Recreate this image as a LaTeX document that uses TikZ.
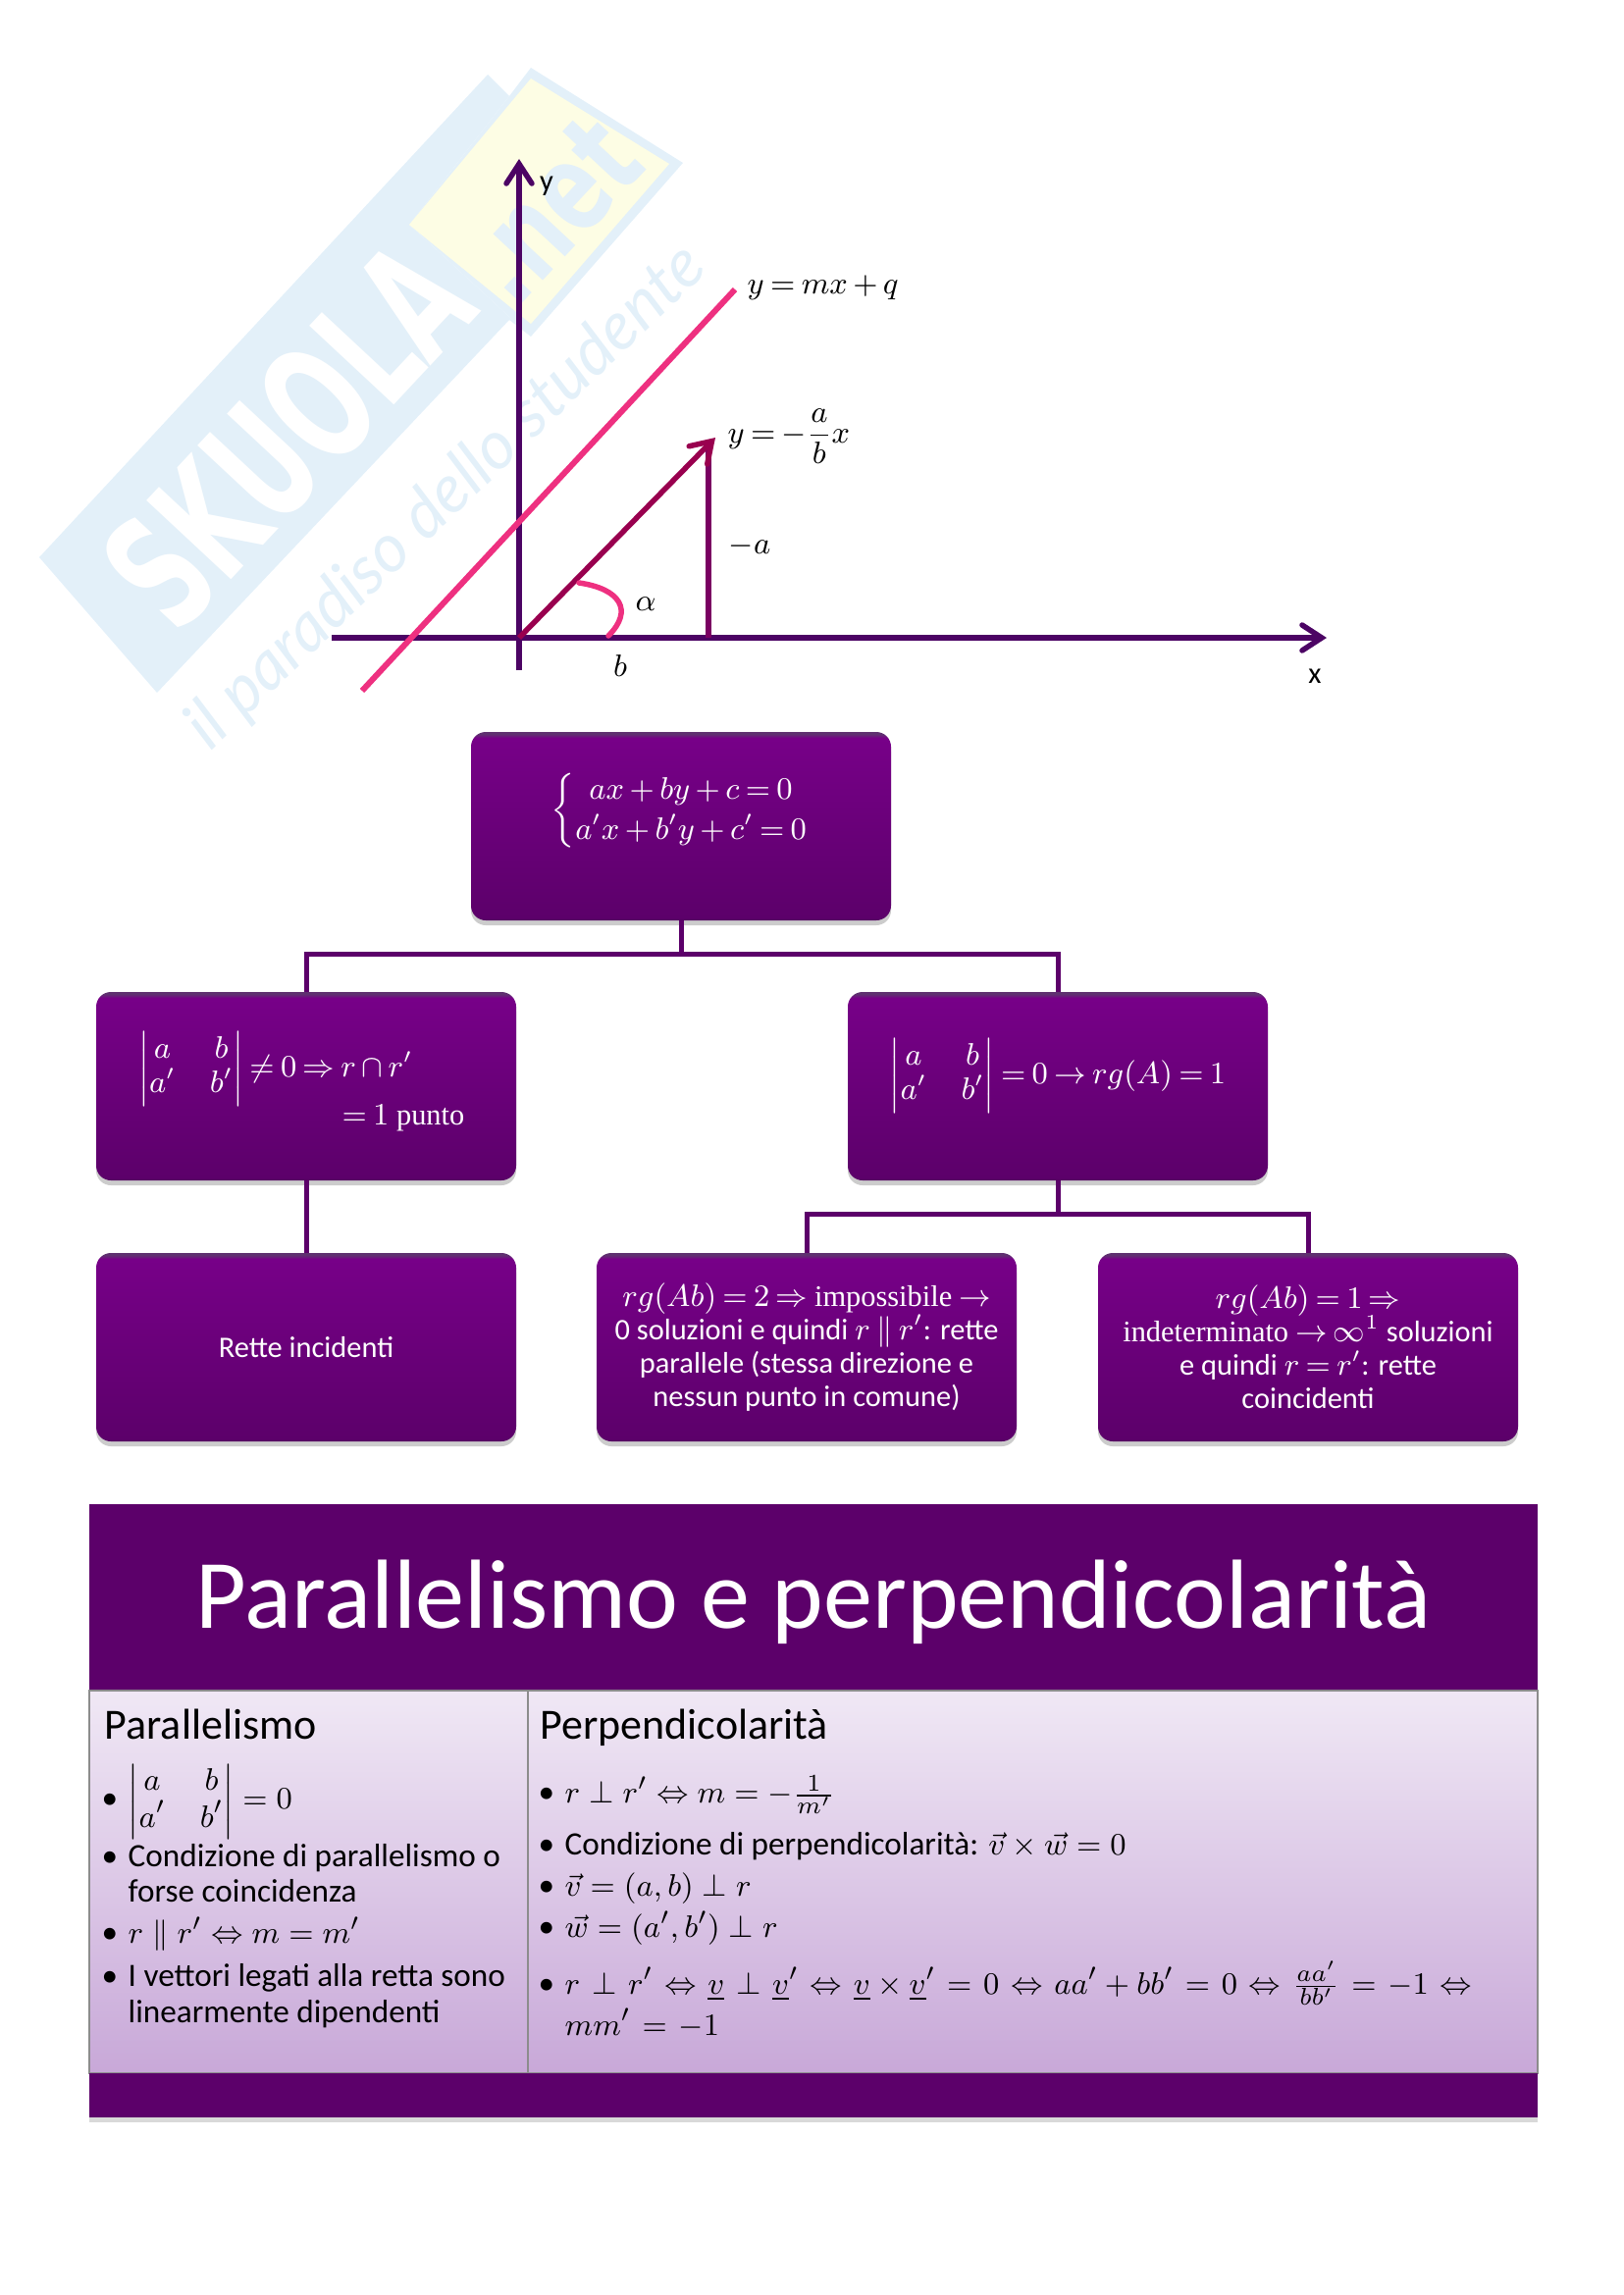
\documentclass[tikz,border=0pt]{standalone}
\usepackage{amsmath}
\usepackage{fontspec}
\setmainfont{Carlito}
\newfontfamily\markfont{DejaVu Sans}
\newfontfamily\tagfont{Lato}
\newfontfamily\wordfont{Liberation Serif}
\usetikzlibrary{arrows.meta, shadows}
\definecolor{darkviolet}{HTML}{5C006A}
\definecolor{axisviolet}{HTML}{4C0464}
\definecolor{sideviolet}{HTML}{7A0062}
\definecolor{slopered}{HTML}{99004F}
\definecolor{linepink}{HTML}{EE3080}
\definecolor{markblue}{HTML}{E3F0F9}
\definecolor{markyellow}{HTML}{FDFDE4}
\definecolor{celltop}{HTML}{F0E8F5}
\definecolor{cellbottom}{HTML}{C8A8D8}
\pgfdeclareverticalshading{boxshade}{100bp}{
  color(0bp)=(darkviolet); color(25bp)=(darkviolet!85!black);
  color(25.6bp)=(darkviolet); color(73.4bp)=(rgb:red,126;green,0;blue,144);
  color(74.4bp)=(rgb:red,200;green,100;blue,235); color(100bp)=(rgb:red,200;green,100;blue,235)}
\newcommand{\dotmark}{\llap{\textbullet\hspace{3pt}}}
\newcommand{\boxfont}{\fontsize{8.65}{9.7}\selectfont\thickmuskip=3.5mu\medmuskip=3mu\relax}
\newcommand{\longfont}{\fontsize{9.45}{10.4}\selectfont\thickmuskip=6.5mu\relax}
\tikzset{
  purplebox/.style={shading=boxshade, rounded corners=1.5mm, minimum width=42.8mm, minimum height=19.2mm,
    inner sep=0pt, outer sep=0pt, text=white, align=center, font=\boxfont,
    drop shadow={opacity=.4, shadow xshift=0pt, shadow yshift=-.5mm}},
  treeline/.style={draw=darkviolet, line width=.5mm},
  axisline/.style={axisviolet, line width=.55mm, -{Straight Barb[length=2mm,width=2.6mm,line cap=round]}},
  graphlabel/.style={font=\boxfont, inner sep=0pt},
  cellbox/.style={draw=black!45, line width=.12mm, top color=celltop, bottom color=cellbottom,
    minimum height=39mm, inner sep=0pt, outer sep=0pt},
  barbox/.style={fill=darkviolet, text=white, minimum width=147.6mm, inner sep=0pt, outer sep=0pt},
  celltext/.style={anchor=west, align=left, inner sep=0pt, font=\fontsize{9.45}{10.4}\selectfont},
  cellhead/.style={anchor=base west, inner sep=0pt, font=\fontsize{12.5}{14}\selectfont}
}
\begin{document}
\begin{tikzpicture}[x=.1mm, y=-.1mm]
  \useasboundingbox (0,0) rectangle (1654,2339);
  \fill[markblue] (40,568) -- (497,76) -- (519,98) -- (417,229) -- (541,343) -- (519,326) -- (160,706) -- cycle;
  \fill[markblue] (519,98) -- (541,69) -- (696,166) -- (541,343) -- (417,229) -- cycle;
  \fill[markyellow] (541,80) -- (682,167) -- (541,330) -- (417,229) -- cycle;
  \node[rotate=47, xscale=.62, text=white, font=\markfont\bfseries\fontsize{46}{46}\selectfont] (skuolamark) at (293,443) {SKUOLA};
  \node[rotate=47, xscale=.7, text=markblue, font=\markfont\bfseries\fontsize{36}{36}\selectfont] (netmark) at (562,214) {.net};
  \node[rotate=44, text=markblue, font=\tagfont\itshape\fontsize{19.5}{20}\selectfont] (tagmark) at (455,507) {il paradiso dello studente};

  \coordinate (xstart) at (338,650);
  \coordinate (xend) at (1352,650);
  \coordinate (ystart) at (529,683);
  \coordinate (yend) at (529,162);
  \coordinate (origin) at (529,650);
  \coordinate (slopeend) at (729,446);
  \coordinate (sidetop) at (722,458);
  \coordinate (sidefoot) at (722,650);
  \coordinate (linestart) at (369,704);
  \coordinate (lineend) at (749,295);
  \coordinate (arcstart) at (620,648);
  \coordinate (arcend) at (590,594);
  \draw[axisline] (xstart) -- (xend);
  \draw[axisline] (ystart) -- (yend);
  \draw[linepink, line width=.6mm] (linestart) -- (lineend);
  \draw[sideviolet, line width=.55mm] (sidefoot) -- (sidetop);
  \draw[slopered, line width=.55mm, -{Straight Barb[length=2mm,width=2.6mm,line cap=round]}] (origin) -- (slopeend);
  \draw[linepink, line width=.55mm, line cap=round] (arcstart) .. controls (646,622) and (632,600) .. (arcend);
  \node[graphlabel] (ylabel) at (557,190) {y};
  \node[graphlabel] (xlabel) at (1340,689) {x};
  \node[graphlabel, anchor=west] (linelabel) at (761,293) {$y=mx+q$};
  \node[graphlabel, anchor=west] (slopelabel) at (741,445) {$y=-\dfrac{a}{b}x$};
  \node[graphlabel] (sidelabel) at (764,557) {$-a$};
  \node[graphlabel] (alphalabel) at (658,616) {$\alpha$};
  \node[graphlabel] (blabel) at (632,679) {$b$};

  \node[purplebox] (rootbox) at (694,842) {\raisebox{2.2pt}[0pt][0pt]{\renewcommand{\arraystretch}{1.2}$\left\{\begin{array}{@{}c@{}}ax+by+c=0\\ a'x+b'y+c'=0\end{array}\right.$}};
  \node[purplebox] (leftbox) at (312,1107) {};
  \node[text=white, align=right, inner sep=0pt, font=\boxfont, anchor=east] (lefttext) at (474,1102) {$\begin{vmatrix}a&b\\a'&b'\end{vmatrix}\neq 0\Rightarrow r\cap r'$\rule{15pt}{0pt}\\[-1.4pt]{\wordfont $=1$ punto}};
  \node[purplebox] (rightbox) at (1078,1107) {\raisebox{.8pt}[0pt][0pt]{$\begin{vmatrix}a&b\\a'&b'\end{vmatrix}=0\to rg(A)=1$}};
  \node[purplebox] (incidentbox) at (312,1373) {Rette incidenti};
  \node[purplebox] (parallelbox) at (822,1373) {$rg(Ab)=2\Rightarrow$ {\wordfont impossibile} $\to$\\0 soluzioni e quindi $r\parallel r'$: rette\\parallele (stessa direzione e\\nessun punto in comune)};
  \node[purplebox] (samebox) at (1333,1373) {$rg(Ab)=1\Rightarrow$\\{\wordfont indeterminato} $\to\smash{\infty^{1}}$ soluzioni\\e quindi $r=r'$: rette\\coincidenti};
  \draw[treeline] (rootbox.south) -- ++(0,34) coordinate (rootfork) -| (leftbox.north);
  \draw[treeline] (rootfork) -| (rightbox.north);
  \draw[treeline] (leftbox.south) -- (incidentbox.north);
  \draw[treeline] (rightbox.south) -- ++(0,34) coordinate (rightfork) -| (parallelbox.north);
  \draw[treeline] (rightfork) -| (samebox.north);

  \node[barbox, minimum height=19mm, font=\fontsize{28.5}{34}\selectfont,
    drop shadow={opacity=.3, shadow xshift=0pt, shadow yshift=-.5mm}] (titlebar) at (829,1628) {\raisebox{-9pt}[0pt][0pt]{Parallelismo e perpendicolarità}};
  \node[cellbox, minimum width=44.7mm] (leftcell) at (314.5,1918) {};
  \node[cellbox, minimum width=102.9mm] (rightcell) at (1052.5,1918) {};
  \node[barbox, minimum height=4.5mm, drop shadow={opacity=.3, shadow xshift=0pt, shadow yshift=-.5mm}] (footbar) at (829,2135.5) {};

  \node[cellhead] (parallelhead) at (106,1772) {Parallelismo};
  \node[celltext] (parallelone) at (130,1836) {\dotmark$\begin{vmatrix}a&b\\a'&b'\end{vmatrix}=0$};
  \node[celltext] (paralleltwo) at (130,1909) {\dotmark Condizione di parallelismo o\\forse coincidenza};
  \node[celltext] (parallelthree) at (130,1971) {\dotmark$r\parallel r'\Leftrightarrow m=m'$};
  \node[celltext] (parallelfour) at (130,2034) {\dotmark I vettori legati alla retta sono\\linearmente dipendenti};

  \node[cellhead] (perphead) at (550,1772) {Perpendicolarità};
  \node[celltext] (perpone) at (575,1829) {\dotmark$r\perp r'\Leftrightarrow m=-\frac{1}{m'}$};
  \node[celltext] (perptwo) at (575,1882) {\dotmark Condizione di perpendicolarità: $\vec{v}\times\vec{w}=0$};
  \node[celltext] (perpthree) at (575,1925) {\dotmark$\vec{v}=(a,b)\perp r$};
  \node[celltext] (perpfour) at (575,1965) {\dotmark$\vec{w}=(a',b')\perp r$};
  \node[celltext, font=\longfont] (perpfive) at (575,2038) {\dotmark$r\perp r'\Leftrightarrow\underline{v}\perp\underline{v}'\Leftrightarrow\underline{v}\times\underline{v}'=0\Leftrightarrow aa'+bb'=0\Leftrightarrow\frac{aa'}{bb'}=-1\Leftrightarrow$\\[0pt]$mm'=-1$};
\end{tikzpicture}
\end{document}
